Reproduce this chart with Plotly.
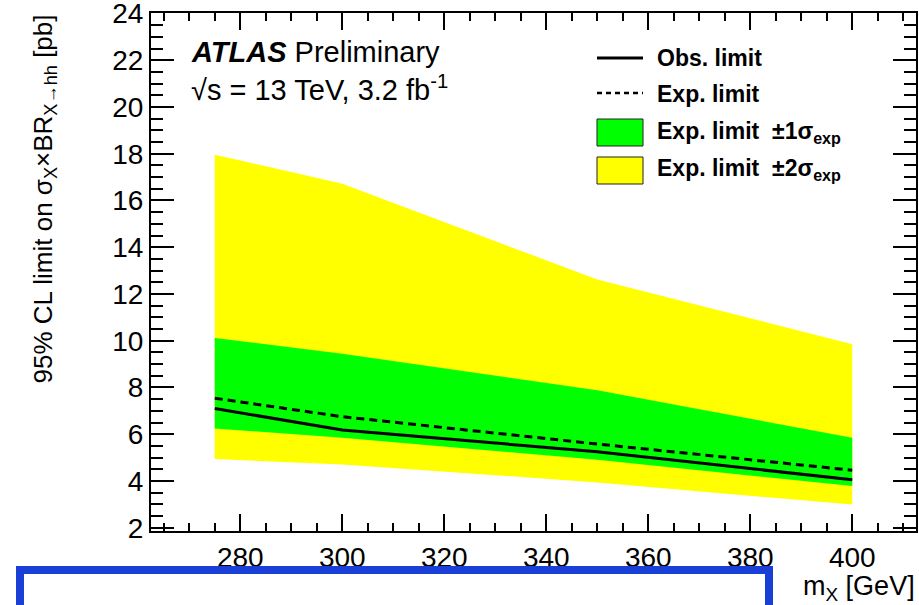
import plotly.graph_objects as go

# Resonance mass points [GeV]
mass = [275, 300, 350, 400]

# 95% CL upper limits [pb]
obs_limit = [7.10, 6.18, 5.25, 4.05]
exp_limit = [7.54, 6.75, 5.58, 4.46]
exp_m1 = [6.25, 5.85, 4.91, 3.78]
exp_p1 = [10.12, 9.44, 7.88, 5.85]
exp_m2 = [4.94, 4.71, 3.94, 2.99]
exp_p2 = [17.96, 16.72, 12.62, 9.85]

legend_labels = ["Obs. limit", "Exp. limit",
                 "Exp. limit  ±1σ<sub>exp</sub>", "Exp. limit  ±2σ<sub>exp</sub>"]

FONT = "Liberation Sans, Arial, Helvetica, sans-serif"
YELLOW = "#ffff00"
GREEN = "#00ff00"

W, H = 919, 605
ML, MR, MT, MB = 151, 3, 13, 74
PW, PH = W - ML - MR, H - MT - MB


def px(x):
    return (x - ML) / PW


def py(y):
    return (H - MB - y) / PH


fig = go.Figure()

# +-2 sigma band
fig.add_trace(go.Scatter(x=mass, y=exp_m2, mode="lines", line=dict(width=0),
                         showlegend=False, hoverinfo="skip"))
fig.add_trace(go.Scatter(x=mass, y=exp_p2, mode="lines", line=dict(width=0),
                         fill="tonexty", fillcolor=YELLOW, showlegend=False))
# +-1 sigma band
fig.add_trace(go.Scatter(x=mass, y=exp_m1, mode="lines", line=dict(width=0),
                         showlegend=False, hoverinfo="skip"))
fig.add_trace(go.Scatter(x=mass, y=exp_p1, mode="lines", line=dict(width=0),
                         fill="tonexty", fillcolor=GREEN, showlegend=False))
# Expected and observed limits
fig.add_trace(go.Scatter(x=mass, y=exp_limit, mode="lines",
                         line=dict(color="black", width=3, dash="8px,5px"),
                         showlegend=False))
fig.add_trace(go.Scatter(x=mass, y=obs_limit, mode="lines",
                         line=dict(color="black", width=3), showlegend=False))

shapes = []
annotations = []

# Legend keys
shapes.append(dict(type="line", xref="paper", yref="paper",
                   x0=px(597), x1=px(643), y0=py(58), y1=py(58),
                   line=dict(color="black", width=3)))
shapes.append(dict(type="line", xref="paper", yref="paper",
                   x0=px(597), x1=px(643), y0=py(93), y1=py(93),
                   line=dict(color="black", width=2.5, dash="5px,4px")))
shapes.append(dict(type="rect", xref="paper", yref="paper",
                   x0=px(597), x1=px(643), y0=py(146), y1=py(119),
                   fillcolor=GREEN, line=dict(color="#222", width=1)))
shapes.append(dict(type="rect", xref="paper", yref="paper",
                   x0=px(597), x1=px(643), y0=py(184), y1=py(157),
                   fillcolor=YELLOW, line=dict(color="#222", width=1)))
for label, yc in zip(legend_labels, [58, 94, 132, 170]):
    annotations.append(dict(text="<b>" + label + "</b>", xref="paper", yref="paper",
                            x=px(655), y=py(yc), xanchor="left", yanchor="middle",
                            showarrow=False, font=dict(family=FONT, size=23, color="black")))

# Experiment label
annotations.append(dict(text="<b><i>ATLAS</i></b> Preliminary", xref="paper", yref="paper",
                        x=px(189), y=py(52), xanchor="left", yanchor="middle",
                        showarrow=False, font=dict(family=FONT, size=29, color="black")))
annotations.append(dict(text="√s = 13 TeV, 3.2 fb<sup>-1</sup>", xref="paper", yref="paper",
                        x=px(189), y=py(88), xanchor="left", yanchor="middle",
                        showarrow=False, font=dict(family=FONT, size=29, color="black")))

# Axis titles
annotations.append(dict(text="95% CL limit on σ<sub>X</sub>×BR<sub>X→hh</sub> [pb]",
                        xref="paper", yref="paper", x=px(44), y=py(13),
                        xanchor="center", yanchor="top", textangle=-90,
                        showarrow=False, font=dict(family=FONT, size=26, color="black")))
annotations.append(dict(text="m<sub>X</sub> [GeV]", xref="paper", yref="paper",
                        x=px(917), y=py(588), xanchor="right", yanchor="middle",
                        showarrow=False, font=dict(family=FONT, size=27, color="black")))

# Hand-drawn highlight box below the axis
shapes.append(dict(type="rect", xref="paper", yref="paper",
                   x0=px(20), x1=px(769), y0=py(620), y1=py(570),
                   line=dict(color="#1a3fd6", width=8)))

fig.update_layout(
    width=W, height=H,
    margin=dict(l=ML, r=MR, t=MT, b=MB, autoexpand=False),
    paper_bgcolor="white", plot_bgcolor="white",
    showlegend=False,
    shapes=shapes, annotations=annotations,
    font=dict(family=FONT, color="black"),
    xaxis=dict(range=[262.5, 412.5], dtick=20, tick0=0, ticks="inside", ticklen=17,
               tickwidth=1.5, tickcolor="black", showgrid=False, zeroline=False,
               showline=True, linecolor="black", linewidth=2, mirror="allticks",
               automargin=False,
               tickfont=dict(family=FONT, size=28, color="black"),
               minor=dict(dtick=5, ticks="inside", ticklen=8, tickwidth=1.5,
                          tickcolor="black", showgrid=False)),
    yaxis=dict(range=[1.86, 24.02], dtick=2, tick0=0, ticks="inside", ticklen=23,
               tickwidth=1.5, tickcolor="black", showgrid=False, zeroline=False,
               showline=True, linecolor="black", linewidth=2, mirror="allticks",
               ticklabeloverflow="allow", automargin=False,
               tickfont=dict(family=FONT, size=28, color="black"),
               minor=dict(dtick=0.5, ticks="inside", ticklen=12, tickwidth=1.5,
                          tickcolor="black", showgrid=False)),
)

fig.write_html("out.html")
